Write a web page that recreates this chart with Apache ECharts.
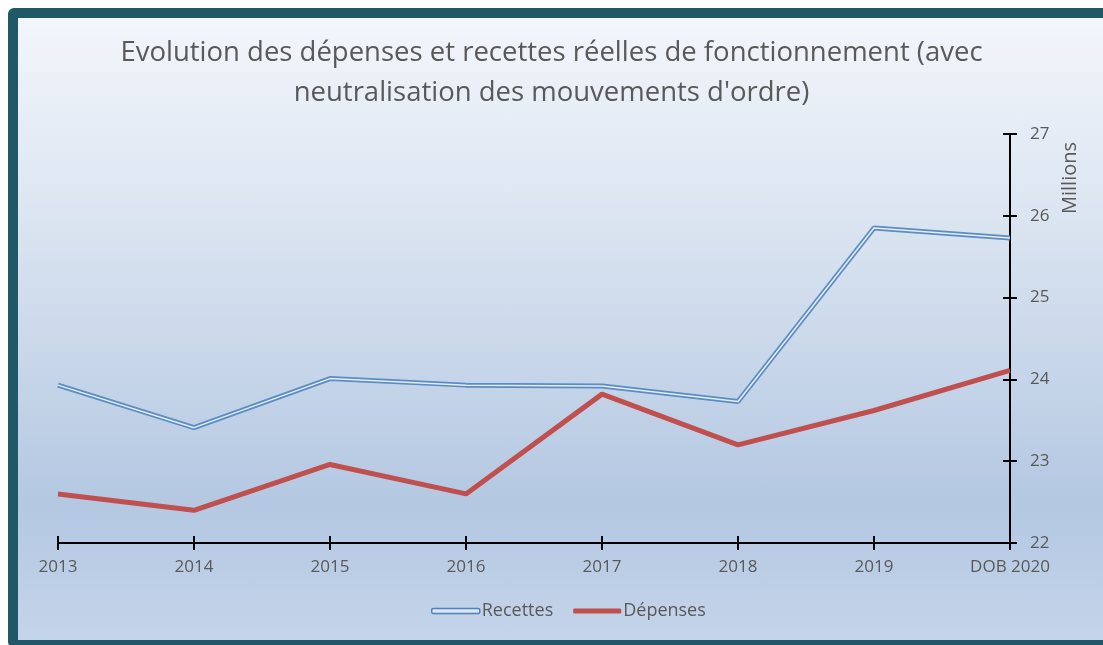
<!DOCTYPE html>
<html>
<head>
<meta charset="utf-8">
<script src="https://cdn.jsdelivr.net/npm/echarts@6/dist/echarts.min.js"></script>
<style>
  html, body { margin: 0; padding: 0; background: #ffffff; overflow: hidden; }
  #frame {
    position: absolute; left: 8px; top: 8px; width: 1120px; height: 622px;
    border: 10px solid #215868; border-bottom-width: 8px; border-radius: 6px 0 0 6px;
    background: linear-gradient(to bottom, #f3f6fb 0%, #d9e3f0 35%, #b4c8e2 78%, #c4d4ea 100%);
  }
  #main { position: absolute; left: 0; top: 0; width: 1103px; height: 645px; }
</style>
</head>
<body>
<div id="frame"></div>
<div id="main"></div>
<script>
var categories = ['2013', '2014', '2015', '2016', '2017', '2018', '2019', 'DOB 2020'];
var recettes = [23.93, 23.41, 24.01, 23.93, 23.92, 23.73, 25.85, 25.73];
var depenses = [22.60, 22.40, 22.96, 22.60, 23.82, 23.20, 23.62, 24.11];

var myChart = echarts.init(document.getElementById('main'));

var font = '"Open Sans", "Noto Sans", sans-serif';
var grey = '#595959';

var option = {
    backgroundColor: 'transparent',
    title: {
        text: 'Evolution des dépenses et recettes réelles de fonctionnement (avec\nneutralisation des mouvements d\'ordre)',
        left: 'center',
        top: 28,
        textStyle: { fontFamily: font, fontSize: 27.5, fontWeight: 'normal', color: grey, lineHeight: 40 }
    },
    legend: {
        bottom: 20,
        left: 426,
        itemWidth: 48,
        itemHeight: 5,
        itemGap: 20,
        textStyle: { fontFamily: font, fontSize: 18, color: grey, padding: [0, 0, 0, -3] },
        data: [
            { name: 'Recettes', icon: 'roundRect', itemStyle: { color: '#dce6f2', borderColor: '#4f81bd', borderWidth: 1.5 } },
            { name: 'Dépenses', icon: 'roundRect', itemStyle: { color: '#c0504d' } }
        ]
    },
    grid: { left: 58, right: 93, top: 134, bottom: 102 },
    xAxis: [
        {
            type: 'category',
            data: categories,
            boundaryGap: false,
            axisLine: { lineStyle: { color: '#000', width: 2 } },
            axisTick: { show: true, length: 7, lineStyle: { color: '#000', width: 2 } },
            axisLabel: { fontFamily: font, fontSize: 17, color: grey, margin: 16 },
            splitLine: { show: false }
        },
        {
            type: 'category',
            data: categories,
            boundaryGap: false,
            position: 'bottom',
            axisLine: { show: false },
            axisTick: { show: true, inside: true, length: 7, lineStyle: { color: '#000', width: 2 } },
            axisLabel: { show: false },
            splitLine: { show: false }
        }
    ],
    yAxis: [
        {
            type: 'value',
            position: 'right',
            min: 22,
            max: 27,
            interval: 1,
            axisLine: { show: true, lineStyle: { color: '#000', width: 2 } },
            axisTick: { show: true, length: 7, lineStyle: { color: '#000', width: 2 } },
            axisLabel: { fontFamily: font, fontSize: 17, color: grey, margin: 20 },
            splitLine: { show: false }
        },
        {
            type: 'value',
            position: 'right',
            min: 22,
            max: 27,
            interval: 1,
            axisLine: { show: false },
            axisTick: { show: true, inside: true, length: 7, lineStyle: { color: '#000', width: 2 } },
            axisLabel: { show: false },
            splitLine: { show: false }
        }
    ],
    graphic: [
        {
            type: 'text',
            x: 1070,
            y: 178,
            rotation: Math.PI / 2,
            style: { text: 'Millions', fontFamily: font, fontSize: 20, fill: grey, align: 'center', verticalAlign: 'middle' }
        }
    ],
    series: [
        {
            name: 'Recettes',
            type: 'line',
            data: recettes,
            showSymbol: false,
            lineStyle: { color: '#5b8cc4', width: 5 },
            itemStyle: { color: '#5b8cc4' },
            z: 2
        },
        {
            name: 'Recettes-inner',
            type: 'line',
            data: recettes,
            showSymbol: false,
            lineStyle: { color: '#e4ecf6', width: 1.5 },
            z: 3,
            silent: true
        },
        {
            name: 'Dépenses',
            type: 'line',
            data: depenses,
            showSymbol: false,
            lineStyle: { color: '#c0504d', width: 5 },
            itemStyle: { color: '#c0504d' },
            z: 4
        }
    ]
};

myChart.setOption(option);
</script>
</body>
</html>
